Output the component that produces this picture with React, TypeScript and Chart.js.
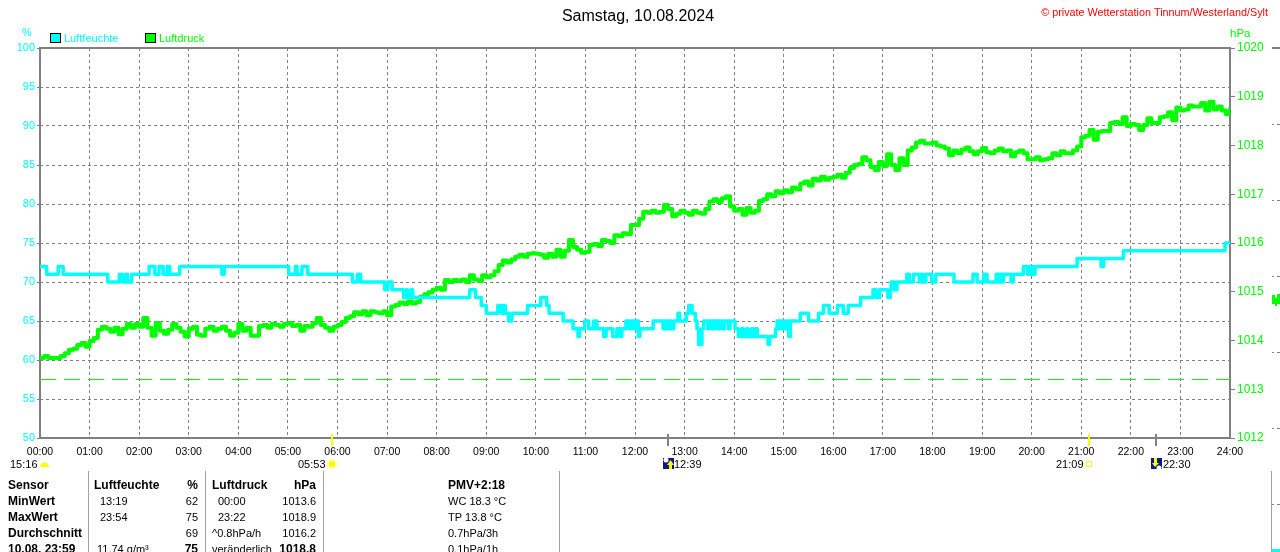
import React, { useEffect, useRef } from "react";
import { Chart, registerables } from "chart.js";

Chart.register(...registerables);

const hourLabels = ["00:00","01:00","02:00","03:00","04:00","05:00","06:00","07:00","08:00","09:00","10:00","11:00","12:00","13:00","14:00","15:00","16:00","17:00","18:00","19:00","20:00","21:00","22:00","23:00","24:00"];

// Air pressure in hPa, one reading each 5 minutes, one row per hour
const pressureValues = [
  1013.64,1013.68,1013.64,1013.64,1013.64,1013.68,1013.74,1013.81,1013.83,1013.91,1013.95,1013.87,
  1013.99,1014.05,1014.22,1014.28,1014.24,1014.18,1014.26,1014.13,1014.24,1014.34,1014.26,1014.34,
  1014.28,1014.46,1014.26,1014.10,1014.36,1014.20,1014.14,1014.22,1014.34,1014.26,1014.18,1014.08,
  1014.24,1014.28,1014.12,1014.10,1014.24,1014.28,1014.20,1014.24,1014.28,1014.20,1014.10,1014.16,
  1014.34,1014.20,1014.26,1014.10,1014.10,1014.30,1014.32,1014.26,1014.34,1014.32,1014.28,1014.34,
  1014.36,1014.30,1014.32,1014.20,1014.30,1014.28,1014.36,1014.46,1014.32,1014.26,1014.20,1014.28,
  1014.32,1014.38,1014.46,1014.50,1014.58,1014.54,1014.60,1014.52,1014.60,1014.58,1014.56,1014.60,
  1014.52,1014.70,1014.73,1014.78,1014.75,1014.80,1014.76,1014.79,1014.90,1014.95,1014.99,1015.04,
  1015.08,1015.04,1015.24,1015.20,1015.24,1015.22,1015.25,1015.20,1015.34,1015.25,1015.22,1015.34,
  1015.30,1015.34,1015.42,1015.55,1015.64,1015.60,1015.66,1015.72,1015.76,1015.72,1015.78,1015.79,
  1015.78,1015.76,1015.70,1015.78,1015.72,1015.86,1015.72,1015.84,1016.06,1015.92,1015.86,1015.80,
  1015.82,1015.96,1015.98,1015.94,1016.06,1016.04,1016.00,1016.16,1016.14,1016.20,1016.18,1016.37,
  1016.37,1016.50,1016.64,1016.62,1016.66,1016.62,1016.64,1016.78,1016.70,1016.55,1016.60,1016.66,
  1016.62,1016.58,1016.66,1016.62,1016.60,1016.70,1016.85,1016.90,1016.84,1016.92,1016.96,1016.75,
  1016.66,1016.70,1016.58,1016.72,1016.62,1016.66,1016.86,1016.90,1017.00,1016.96,1017.06,1017.02,
  1017.08,1017.04,1017.14,1017.10,1017.22,1017.26,1017.18,1017.32,1017.28,1017.36,1017.30,1017.34,
  1017.36,1017.40,1017.34,1017.44,1017.54,1017.60,1017.62,1017.76,1017.70,1017.56,1017.50,1017.66,
  1017.58,1017.82,1017.60,1017.50,1017.74,1017.60,1017.90,1017.96,1018.06,1018.10,1018.04,1018.04,
  1018.06,1018.00,1017.98,1017.94,1017.80,1017.90,1017.84,1017.92,1017.96,1017.88,1017.82,1017.88,
  1017.95,1017.86,1017.84,1017.90,1017.94,1017.88,1017.90,1017.78,1017.86,1017.90,1017.84,1017.72,
  1017.72,1017.76,1017.70,1017.72,1017.74,1017.84,1017.80,1017.88,1017.84,1017.84,1017.90,1017.98,
  1018.17,1018.20,1018.32,1018.12,1018.28,1018.30,1018.30,1018.46,1018.48,1018.44,1018.58,1018.40,
  1018.44,1018.42,1018.32,1018.42,1018.56,1018.46,1018.46,1018.58,1018.60,1018.68,1018.52,1018.78,
  1018.72,1018.74,1018.82,1018.80,1018.80,1018.87,1018.72,1018.90,1018.74,1018.80,1018.72,1018.64,
  1018.78,
];

// Humidity in %: minute of the day at which the reading changed, and the new reading
const humidityMinutes = [0,8,22,28,82,96,100,104,106,111,132,139,144,149,154,157,169,220,223,301,309,311,317,324,378,384,388,417,421,426,440,443,445,449,451,520,527,534,540,554,558,560,563,567,571,590,606,613,616,633,645,651,653,659,664,670,674,682,685,693,698,702,704,709,713,715,719,721,724,726,742,754,756,759,761,764,767,772,774,782,785,789,793,795,797,801,803,808,810,814,816,820,822,826,828,833,835,841,845,849,851,855,857,861,863,866,868,881,883,890,892,895,897,900,903,906,908,920,930,942,948,955,965,972,978,993,1008,1012,1016,1026,1029,1030,1034,1037,1049,1052,1057,1064,1066,1068,1072,1079,1084,1106,1129,1134,1142,1146,1157,1160,1162,1164,1166,1175,1178,1190,1195,1198,1201,1204,1255,1284,1287,1311,1434,1440];
const humidityValues = [72,71,72,71,70,71,70,71,70,71,72,71,72,71,72,71,72,71,72,71,72,71,72,71,70,71,70,69,70,69,68,69,68,69,68,69,68,67,66,67,66,67,66,65,66,67,68,67,66,65,64,63,64,65,64,65,64,63,64,63,64,63,64,65,64,65,64,65,63,64,65,64,65,64,65,64,65,66,65,66,67,66,65,64,62,64,65,64,65,64,65,64,65,64,65,64,65,64,63,64,63,64,63,64,63,64,63,62,63,64,65,64,65,64,65,63,65,66,65,66,67,66,67,66,67,68,69,68,69,68,69,70,69,70,71,70,71,70,71,70,71,70,71,70,71,70,71,70,71,70,71,70,71,70,71,72,71,72,71,72,73,72,73,74,75,75];

const standardPressure = 1013.2;
const leftTicks = [50, 100];
const rightTicks = [1012, 1020];

const legendNames = ["Luftfeuchte", "Luftdruck"];
const tableLabels = ["Sensor", "MinWert", "MaxWert", "Durchschnitt", "10.08. 23:59"];
const humidityTimes = ["13:19", "23:54"];
const humidityColumn = ["%", "62", "75", "69", "75"];
const pressureLeft = ["00:00", "23:22", "^0.8hPa/h", "veränderlich"];
const pressureColumn = ["hPa", "1013.6", "1018.9", "1016.2", "1018.8"];
const comfort = ["PMV+2:18", "WC 18.3 °C", "TP 13.8 °C", "0.7hPa/3h", "0.1hPa/1h"];

const FONT = '"Liberation Sans"';
const CYAN = "#00ffff";
const GREEN = "#00ff00";
const GRAY = "#808080";
const NAVY = "#0a1a8c";

function drawIconBox(ctx: CanvasRenderingContext2D, x: number, up: boolean) {
  ctx.fillStyle = NAVY;
  ctx.fillRect(x, 458, 11, 11);
  ctx.fillStyle = "#ffffff";
  ctx.beginPath();
  ctx.arc(up ? x + 3 : x + 8, up ? 460 : 468, 2.5, 0, Math.PI * 2);
  ctx.fill();
  ctx.fillStyle = "#ffff00";
  ctx.beginPath();
  if (up) {
    ctx.moveTo(x + 7.5, 460);
    ctx.lineTo(x + 11, 465);
    ctx.lineTo(x + 9, 465);
    ctx.lineTo(x + 9, 469);
    ctx.lineTo(x + 6, 469);
    ctx.lineTo(x + 6, 465);
    ctx.lineTo(x + 4, 465);
  } else {
    ctx.moveTo(x + 4, 467);
    ctx.lineTo(x + 1, 463);
    ctx.lineTo(x + 3, 463);
    ctx.lineTo(x + 3, 458);
    ctx.lineTo(x + 6, 458);
    ctx.lineTo(x + 6, 463);
    ctx.lineTo(x + 8, 463);
  }
  ctx.closePath();
  ctx.fill();
}

const decorations = {
  id: "decorations",
  beforeDatasetsDraw(chart: any) {
    const { ctx, chartArea: a } = chart;
    ctx.save();
    ctx.strokeStyle = GRAY;
    ctx.lineWidth = 2;
    ctx.strokeRect(a.left, a.top, a.right - a.left, a.bottom - a.top);
    ctx.restore();
  },
  afterDraw(chart: any) {
    const { ctx } = chart;
    ctx.save();
    ctx.textBaseline = "alphabetic";
    const regular = `11px ${FONT}`;
    const bold = `bold 12px ${FONT}`;
    const text = (s: string, x: number, y: number, color = "#000", font = regular, align: CanvasTextAlign = "left") => {
      ctx.font = font;
      ctx.fillStyle = color;
      ctx.textAlign = align;
      ctx.fillText(s, x, y);
    };
    text("Samstag, 10.08.2024", 638, 21, "#000", `16px ${FONT}`, "center");
    text("© private Wetterstation Tinnum/Westerland/Sylt", 1268, 16, "#ff0000", `10.8px ${FONT}`, "right");
    text("%", 22, 36, CYAN, regular);
    text("hPa", 1230, 37, GREEN, `11.5px ${FONT}`);

    // legend
    [[50, CYAN, 64], [145, GREEN, 159]].forEach(([x, c, tx]: any, i) => {
      ctx.fillStyle = c;
      ctx.fillRect(x + 0.5, 33.5, 10, 9);
      ctx.strokeStyle = "#000";
      ctx.lineWidth = 1;
      ctx.strokeRect(x + 0.5, 33.5, 10, 9);
      text(legendNames[i], tx, 42, c, regular);
    });

    // sun and moon markers on the time axis
    ctx.fillStyle = "#ffff00";
    ctx.fillRect(331, 434, 2, 12);
    ctx.fillRect(1088, 434, 2, 12);
    ctx.fillStyle = GRAY;
    ctx.fillRect(667, 434, 2, 12);
    ctx.fillRect(1155, 434, 2, 12);
    text("15:16", 10, 468);
    text("05:53", 298, 468);
    text("12:39", 674, 468);
    text("21:09", 1056, 468);
    text("22:30", 1163, 468);
    ctx.fillStyle = "#ffff00";
    ctx.beginPath();
    ctx.arc(44.5, 467, 4.5, Math.PI, 0);
    ctx.fill();
    ctx.beginPath();
    ctx.arc(332, 464, 3.5, 0, Math.PI * 2);
    ctx.fill();
    ctx.strokeStyle = "#ffff99";
    ctx.lineWidth = 1;
    ctx.beginPath();
    ctx.arc(332, 464, 5, 0, Math.PI * 2);
    ctx.stroke();
    ctx.strokeStyle = "#ffff00";
    ctx.strokeRect(1086.5, 461.5, 5, 5);
    drawIconBox(ctx, 663, true);
    drawIconBox(ctx, 1151, false);

    // table rules
    ctx.strokeStyle = "#a0a0a0";
    ctx.lineWidth = 1;
    [88, 205, 323, 559, 1271].forEach((x) => {
      ctx.beginPath();
      ctx.moveTo(x + 0.5, 471);
      ctx.lineTo(x + 0.5, 552);
      ctx.stroke();
    });

    // table
    const rows = [489, 505, 521, 537, 553];
    tableLabels.forEach((s, i) => text(s, 8, rows[i], "#000", bold));
    text("Luftfeuchte", 94, rows[0], "#000", bold);
    text(humidityTimes[0], 100, rows[1]);
    text(humidityTimes[1], 100, rows[2]);
    text("11.74 g/m³", 97, rows[4]);
    humidityColumn.forEach((s, i) => text(s, 198, rows[i], "#000", i === 0 || i === 4 ? bold : regular, "right"));
    text("Luftdruck", 212, rows[0], "#000", bold);
    text(pressureLeft[0], 218, rows[1]);
    text(pressureLeft[1], 218, rows[2]);
    text(pressureLeft[2], 212, rows[3]);
    text(pressureLeft[3], 212, rows[4]);
    pressureColumn.forEach((s, i) => text(s, 316, rows[i], "#000", i === 0 || i === 4 ? bold : regular, "right"));
    comfort.forEach((s, i) => text(s, 448, rows[i], "#000", i === 0 ? bold : regular));

    // the neighbouring chart cut off at the right edge
    ctx.fillStyle = GRAY;
    ctx.fillRect(1272, 47, 8, 2);
    [124, 200, 276, 352, 428, 504].forEach((y) => {
      ctx.fillRect(1272, y, 2, 1);
      ctx.fillRect(1277, y, 3, 1);
    });
    ctx.fillStyle = GREEN;
    ctx.fillRect(1272, 295, 3, 9);
    ctx.fillRect(1275, 298, 2, 8);
    ctx.fillRect(1277, 294, 3, 10);
    ctx.fillStyle = CYAN;
    ctx.fillRect(1272, 549, 8, 3);
    ctx.restore();
  },
};

export default function App() {
  const ref = useRef<HTMLCanvasElement>(null);
  useEffect(() => {
    document.body.style.margin = "0";
    document.body.style.background = "#fff";
    const chart = new Chart(ref.current!, {
      type: "line",
      data: {
        datasets: [
          {
            label: legendNames[0],
            data: humidityMinutes.map((x, i) => ({ x, y: humidityValues[i] })),
            yAxisID: "y",
            borderColor: CYAN,
            borderWidth: 3.5,
            borderJoinStyle: "round",
            pointRadius: 0,
            stepped: true,
          },
          {
            label: legendNames[1],
            data: pressureValues.map((y, i) => ({ x: i * 5, y })),
            yAxisID: "y1",
            borderColor: GREEN,
            borderWidth: 4,
            borderJoinStyle: "round",
            pointRadius: 0,
            stepped: true,
          },
          {
            label: "Normaldruck",
            data: [{ x: 0, y: standardPressure }, { x: 1440, y: standardPressure }],
            yAxisID: "y1",
            borderColor: GREEN,
            borderWidth: 1,
            borderDash: [16, 8],
            pointRadius: 0,
          },
        ],
      } as any,
      options: {
        animation: false,
        responsive: false,
        layout: { padding: { top: 48, left: 0, right: 0, bottom: 0 } },
        plugins: { legend: { display: false }, tooltip: { enabled: false }, title: { display: false } },
        scales: {
          x: {
            type: "linear",
            min: 0,
            max: 1440,
            afterFit: (s: any) => { s.height = 114; },
            afterBuildTicks: (s: any) => { s.ticks = hourLabels.map((_, i) => ({ value: i * 60 })); },
            grid: { color: GRAY, lineWidth: 1, drawTicks: false, tickLength: 0 },
            border: { display: false, dash: [3, 3] },
            ticks: {
              color: "#000",
              font: { family: FONT, size: 10.5 },
              padding: 8,
              maxRotation: 0,
              autoSkip: false,
              callback: (v: any) => hourLabels[v / 60],
            },
          },
          y: {
            position: "left",
            min: leftTicks[0],
            max: leftTicks[1],
            afterFit: (s: any) => { s.width = 40; },
            grid: { color: GRAY, lineWidth: 1, tickLength: 3, tickColor: GRAY, tickBorderDash: [] },
            border: { display: false, dash: [3, 3] },
            ticks: { stepSize: 5, color: CYAN, font: { family: FONT, size: 11 }, padding: 2 },
          },
          y1: {
            position: "right",
            min: rightTicks[0],
            max: rightTicks[1],
            afterFit: (s: any) => { s.width = 50; },
            grid: { drawOnChartArea: false, color: GRAY, tickLength: 5, tickColor: GRAY },
            border: { display: false },
            ticks: { stepSize: 1, color: GREEN, font: { family: FONT, size: 12 }, padding: 2, callback: (v: any) => String(v) },
          },
        },
      },
      plugins: [decorations],
    } as any);
    return () => chart.destroy();
  }, []);
  return <canvas ref={ref} width={1280} height={552} style={{ display: "block", width: 1280, height: 552 }} />;
}
